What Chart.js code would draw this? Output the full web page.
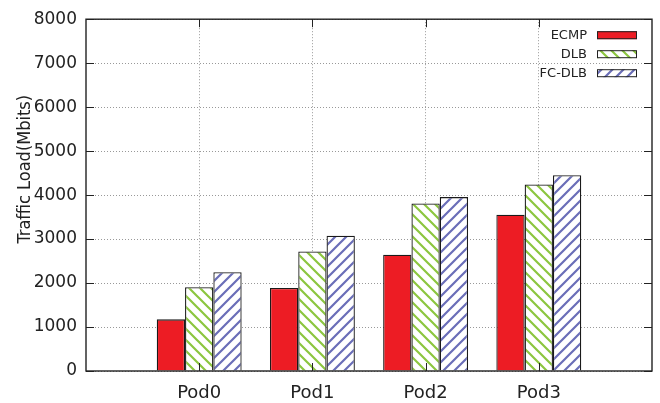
<!DOCTYPE html>
<html>
<head>
<meta charset="utf-8">
<script src="https://cdn.jsdelivr.net/npm/chart.js@4.4.1/dist/chart.umd.min.js"></script>
<style>
  html, body { margin: 0; padding: 0; background: #fff; }
  #wrap { width: 660px; height: 403px; }
</style>
</head>
<body>
<div id="wrap"><canvas id="chart" width="660" height="403"></canvas></div>
<script>
const categories = ["Pod0", "Pod1", "Pod2", "Pod3"];
const seriesNames = ["ECMP", "DLB", "FC-DLB"];
const ecmp = [1175, 1890, 2645, 3555];
const dlb = [1905, 2720, 3810, 4240];
const fcdlb = [2245, 3075, 3955, 4450];
const yTicks = [0, 1000, 2000, 3000, 4000, 5000, 6000, 7000, 8000];

// hatch tile, dir 1 = "\" and -1 = "/"
function makeHatch(color, dir) {
  const s = 11;
  const c = document.createElement("canvas");
  c.width = s;
  c.height = s;
  const g = c.getContext("2d");
  g.fillStyle = "#ffffff";
  g.fillRect(0, 0, s, s);
  g.strokeStyle = color;
  g.lineWidth = 2.2;
  g.beginPath();
  if (dir > 0) {
    g.moveTo(-2, -2); g.lineTo(s + 2, s + 2);
    g.moveTo(-2, s - 2); g.lineTo(2, s + 2);
    g.moveTo(s - 2, -2); g.lineTo(s + 2, 2);
  } else {
    g.moveTo(-2, s + 2); g.lineTo(s + 2, -2);
    g.moveTo(-2, 2); g.lineTo(2, -2);
    g.moveTo(s - 2, s + 2); g.lineTo(s + 2, s - 2);
  }
  g.stroke();
  return g.createPattern(c, "repeat");
}

const ctx = document.getElementById("chart").getContext("2d");
const fills = ["#ed1c24", makeHatch("#8cc63f", 1), makeHatch("#6a6eb8", -1)];
const values = [ecmp, dlb, fcdlb];

const framePlugin = {
  id: "frame",
  afterDatasetsDraw(chart) {
    const { ctx, chartArea: a, scales } = chart;
    ctx.save();
    ctx.strokeStyle = "#222";
    ctx.lineWidth = 1;
    ctx.beginPath();
    yTicks.forEach((v) => {
      const y = Math.round(scales.y.getPixelForValue(v)) + 0.5;
      ctx.moveTo(a.left, y); ctx.lineTo(a.left + 8, y);
      ctx.moveTo(a.right - 8, y); ctx.lineTo(a.right, y);
    });
    categories.forEach((c, i) => {
      const x = Math.round(scales.x.getPixelForValue(i)) + 0.5;
      ctx.moveTo(x, a.top); ctx.lineTo(x, a.top + 8);
      ctx.moveTo(x, a.bottom - 8); ctx.lineTo(x, a.bottom);
    });
    ctx.stroke();
    ctx.lineWidth = 1.4;
    ctx.strokeRect(a.left, a.top, a.right - a.left, a.bottom - a.top);
    ctx.restore();
  },
  afterDraw(chart) {
    const { ctx, chartArea: a } = chart;
    ctx.save();
    // y axis title
    ctx.fillStyle = "#222";
    ctx.font = '18px "DejaVu Sans Condensed", "DejaVu Sans"';
    ctx.textAlign = "center";
    ctx.textBaseline = "middle";
    ctx.translate(25, a.top + 150);
    ctx.rotate(-Math.PI / 2);
    ctx.fillText("Traffic Load(Mbits)", 0, 0);
    ctx.restore();

    // legend, text on the left of its sample
    ctx.save();
    ctx.font = '13px "DejaVu Sans"';
    ctx.textAlign = "right";
    ctx.textBaseline = "middle";
    chart.data.datasets.forEach((ds, i) => {
      const y = a.top + 16 + i * 19;
      ctx.fillStyle = "#222";
      ctx.fillText(ds.label, a.right - 65, y);
      ctx.fillStyle = ds.backgroundColor;
      ctx.fillRect(a.right - 55, y - 4, 40, 8);
      ctx.strokeStyle = "#222";
      ctx.lineWidth = 1;
      ctx.strokeRect(a.right - 55 + 0.5, y - 4 + 0.5, 39, 7);
    });
    ctx.restore();
  },
};

new Chart(ctx, {
  type: "bar",
  data: {
    datasets: seriesNames.map((name, k) => ({
      label: name,
      data: values[k].map((v, i) => ({ x: i, y: v })),
      backgroundColor: fills[k],
      borderColor: "#1a1a1a",
      borderWidth: 1.3,
      borderSkipped: "bottom",
      categoryPercentage: 0.75,
      barPercentage: 1.0,
    })),
  },
  options: {
    responsive: false,
    animation: false,
    devicePixelRatio: 1,
    layout: { padding: { left: 0, top: 17, right: 8, bottom: 0 } },
    plugins: {
      legend: { display: false },
      tooltip: { enabled: false },
    },
    scales: {
      x: {
        type: "linear",
        min: -1,
        max: 4,
        offset: false,
        afterBuildTicks: (scale) => {
          scale.ticks = categories.map((c, i) => ({ value: i }));
        },
        afterFit: (scale) => {
          scale.height = 32;
        },
        grid: {
          offset: false,
          drawTicks: false,
          color: "#999",
          lineWidth: 1,
        },
        border: { display: false, dash: [1, 2] },
        ticks: {
          autoSkip: false,
          maxRotation: 0,
          padding: 12,
          color: "#222",
          font: { size: 18, family: "'DejaVu Sans'" },
          callback: (v) => categories[v] ?? "",
        },
      },
      y: {
        min: 0,
        max: 8000,
        afterBuildTicks: (scale) => {
          scale.ticks = yTicks.map((v) => ({ value: v }));
        },
        afterFit: (scale) => {
          scale.width = 86;
        },
        grid: {
          drawTicks: false,
          color: "#999",
          lineWidth: 1,
        },
        border: { display: false, dash: [1, 2] },
        ticks: {
          padding: 9,
          color: "#222",
          font: { size: 17, family: "'DejaVu Sans'" },
          callback: (v) => String(v),
        },
      },
    },
  },
  plugins: [framePlugin],
});
</script>
</body>
</html>
